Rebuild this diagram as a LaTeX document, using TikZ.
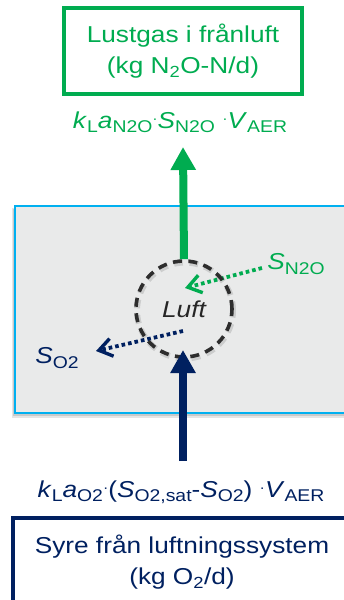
\documentclass[tikz,border=0pt]{standalone}
\usepackage{fontspec}
\setmainfont{Liberation Sans}[FakeStretch=1.14]
\usetikzlibrary{arrows.meta}
\definecolor{lgreen}{RGB}{0,172,80}
\definecolor{navy}{RGB}{0,32,96}
\definecolor{bxblue}{RGB}{0,176,240}
\definecolor{bxgray}{RGB}{233,234,234}
\definecolor{dgray}{RGB}{45,45,45}
\newcommand\sbs[1]{\raisebox{-0.35ex}{\fontsize{17}{17}\selectfont #1}}
\newcommand\cdt{\raisebox{0.35ex}{\fontsize{14}{14}\selectfont ·}}
\begin{document}
\begin{tikzpicture}[x=1pt,y=-1pt,
  font=\fontsize{23}{31}\selectfont,
  outbox/.style={draw, line width=3.8pt, align=center, inner sep=0pt},
  bigarrow/.style={line width=8pt, -{Triangle[length=23pt,width=24pt]}},
  dotarrow/.style={line width=3.8pt, dash pattern=on 3.6pt off 3pt, -{Straight Barb[length=13pt,width=18pt,line width=3.4pt]}},
  lbl/.style={inner sep=0pt}]
\useasboundingbox (0,0) rectangle (343,600);
% reactor box
\fill[black,opacity=0.10] (12,208) rectangle (350,418);
\fill[black,opacity=0.12] (13,209) rectangle (350,416);
\draw[fill=bxgray, draw=bxblue, line width=2.6pt] (15,206) rectangle (350,413);
% top box
\node[outbox, draw=lgreen, text=lgreen, minimum width=238pt, minimum height=86pt] (top) at (183,51)
  {Lustgas i frånluft\\(kg N\textsubscript{2}O-N/d)};
\node[lbl, text=lgreen] (fn2o) at (180,122)
  {\textit{k}\sbs{L}\textit{a}\sbs{N2O}\cdt\textit{S}\sbs{N2O} \cdt\textit{V}\sbs{AER}};
% bottom box
\draw[navy, line width=3.8pt] (13,620) |- coordinate (bbtl) (352,518);
\node[lbl, text=navy, align=center] (bot) at (182,562)
  {Syre från luftningssystem\\(kg O\textsubscript{2}/d)};
\node[lbl, text=navy] (fo2) at (181,492)
  {\textit{k}\sbs{L}\textit{a}\sbs{O2}\cdt(\textit{S}\sbs{O2,sat}-\textit{S}\sbs{O2}) \cdt\textit{V}\sbs{AER}};
% labels
\node[lbl, text=lgreen] (sn2o) at (296,264) {\textit{S}\sbs{N2O}};
\node[lbl, text=navy] (so2) at (57,358) {\textit{S}\sbs{O2}};
% connectors (dotted)
\coordinate (gs) at (262,268);
\coordinate (ge) at (185,288);
\coordinate (ns) at (183,331);
\coordinate (ne) at (96,351);
\draw[dotarrow, lgreen] (gs) -- (ge);
\draw[dotarrow, navy] (ns) -- (ne);
% air bubble
\draw[black, opacity=0.12, line width=6pt, dash pattern=on 9pt off 6.5pt] (185,310.5) circle[radius=48pt];
\node[circle, draw=dgray, line width=3.6pt, dash pattern=on 9pt off 6.5pt, minimum size=96pt, inner sep=0pt,
  font=\fontsize{23}{23}\selectfont\itshape, text=black!85] (luft) at (184,309) {Luft};
% connectors (solid)
\coordinate (gtip) at (183,147);
\coordinate (nstart) at (183,461);
\coordinate (ntip) at (183,350);
\draw[bigarrow, lgreen] (luft.north) -- (gtip);
\draw[bigarrow, navy] (nstart) -- (ntip);
\end{tikzpicture}
\end{document}
